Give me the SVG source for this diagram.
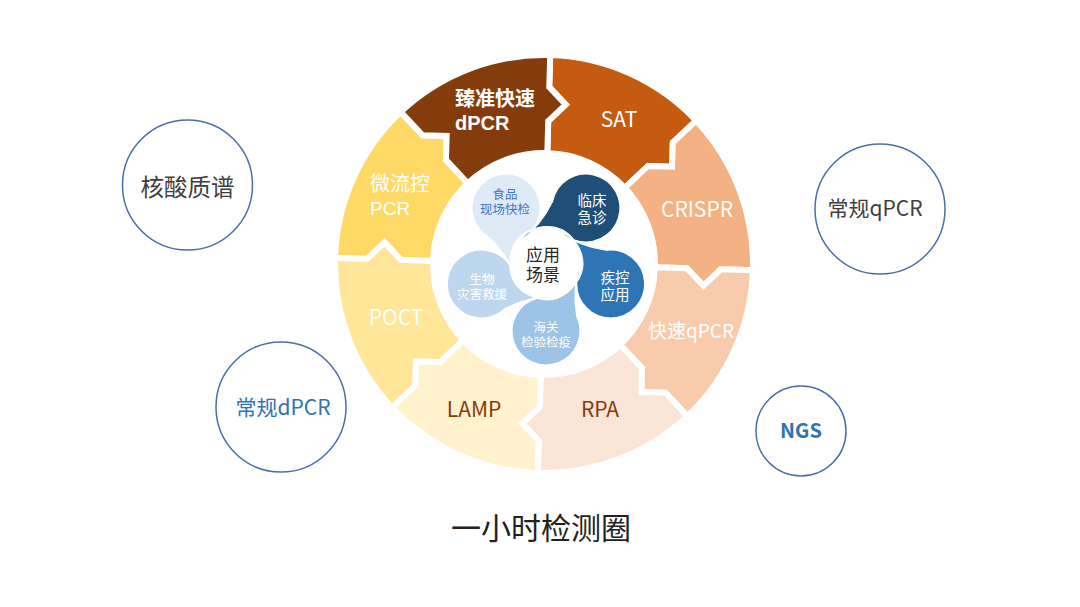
<svg xmlns="http://www.w3.org/2000/svg" width="1080" height="607" viewBox="0 0 1080 607">
<defs>
<path id="seg" d="M0,-209 A209,209 0 0 1 147.79,-147.79 L125.16,-125.16 L125.16,-101.12 L101.12,-101.12 L78.49,-78.49 A111,111 0 0 0 0,-111 L0,-143 L17,-160 L0,-177 Z"/>
<path id="petal" d="M-33.92,-2.37 A33,33 0 0 1 8.8,-35.16 A34,34 0 1 0 -30.81,-53.63 Q-26,-26 -33.92,-2.37 Z"/>
<clipPath id="tailclip"><polygon points="0,0 -59.8,5.2 -49.1,-34.4 -15.5,-58"/></clipPath>
</defs>
<style>
.seg{stroke:#fff;stroke-width:6;stroke-linejoin:miter}
.pet{stroke:#fff;stroke-width:1.2}
.t{font-family:"Noto Sans CJK SC","Noto Sans",sans-serif}
.t2{font-family:"Liberation Sans","Noto Sans CJK SC",sans-serif}
.w{fill:#fff}
.br{fill:#843C0C}
.oc{fill:#fff;stroke:#4A6DB0;stroke-width:1.5}
</style>
<rect width="1080" height="607" fill="#fff"/>

<g id="ring">
<g id="node-sat"><use href="#seg" class="seg" fill="#C55A11" transform="translate(544,264) rotate(1.7)"/>
<text class="t w" x="619" y="127" font-size="21" text-anchor="middle">SAT</text></g>
<g id="node-crispr"><use href="#seg" class="seg" fill="#F4B183" transform="translate(544,264) rotate(46.7)"/>
<text class="t w" x="697" y="217" font-size="21" text-anchor="middle">CRISPR</text></g>
<g id="node-fastqpcr"><use href="#seg" class="seg" fill="#F8CBAD" transform="translate(544,264) rotate(91.7)"/>
<text class="t w" x="691" y="338" font-size="19" text-anchor="middle">快速qPCR</text></g>
<g id="node-rpa"><use href="#seg" class="seg" fill="#FBE5D6" transform="translate(544,264) rotate(136.7)"/>
<text class="t br" x="600" y="417" font-size="21" text-anchor="middle">RPA</text></g>
<g id="node-lamp"><use href="#seg" class="seg" fill="#FFF2CC" transform="translate(544,264) rotate(181.7)"/>
<text class="t br" x="474" y="417" font-size="21" text-anchor="middle">LAMP</text></g>
<g id="node-poct"><use href="#seg" class="seg" fill="#FFE699" transform="translate(544,264) rotate(226.7)"/>
<text class="t w" x="396" y="325" font-size="21" text-anchor="middle">POCT</text></g>
<g id="node-microfluidic"><use href="#seg" class="seg" fill="#FFD966" transform="translate(544,264) rotate(271.7)"/>
<text class="t2 w" font-size="20"><tspan x="370" y="191">微流控</tspan><tspan x="370" y="215" font-size="19">PCR</tspan></text></g>
<g id="node-zhenzhun"><use href="#seg" class="seg" fill="#843C0C" transform="translate(544,264) rotate(316.7)"/>
<text class="t2 w" font-size="20" font-weight="bold"><tspan x="455" y="106">臻准快速</tspan><tspan x="455" y="130">dPCR</tspan></text></g>
</g>

<g id="petals">
<g id="node-food"><use href="#petal" class="pet" fill="#DEEBF7" transform="translate(546,263) rotate(-36)"/></g>
<g id="node-bio"><use href="#petal" class="pet" fill="#BDD7EE" transform="translate(546,263) rotate(252)"/></g>
<g id="node-customs"><use href="#petal" class="pet" fill="#9DC3E6" transform="translate(546,263) rotate(180)"/></g>
<g id="node-cdc"><use href="#petal" class="pet" fill="#2E75B6" transform="translate(546,263) rotate(108)"/></g>
<g id="node-clinic"><use href="#petal" class="pet" fill="#1F4E79" transform="translate(546,263) rotate(36)"/></g>
<g id="food-tail" transform="translate(546,263) rotate(-36)"><path class="pet" fill="#DEEBF7" clip-path="url(#tailclip)" d="M-33.92,-2.37 A33,33 0 0 1 8.8,-35.16 A34,34 0 1 0 -30.81,-53.63 Q-26,-26 -33.92,-2.37 Z"/></g>
<g id="petal-labels">
<text class="t2" fill="#4472C4" font-size="12.5" text-anchor="middle"><tspan x="505" y="199">食品</tspan><tspan x="505" y="214">现场快检</tspan></text>
<text class="t2 w" font-size="14.5" text-anchor="middle"><tspan x="592" y="206">临床</tspan><tspan x="592" y="223">急诊</tspan></text>
<text class="t2 w" font-size="14.5" text-anchor="middle"><tspan x="615" y="283">疾控</tspan><tspan x="615" y="300">应用</tspan></text>
<text class="t2 w" font-size="12.5" text-anchor="middle"><tspan x="546" y="332">海关</tspan><tspan x="546" y="347">检验检疫</tspan></text>
<text class="t2 w" font-size="12.5" text-anchor="middle"><tspan x="482" y="284">生物</tspan><tspan x="482" y="299">灾害救援</tspan></text>
</g>
<g id="node-center">
<text class="t2" fill="#262626" font-size="17" text-anchor="middle"><tspan x="543" y="261">应用</tspan><tspan x="543" y="281">场景</tspan></text>
</g>
</g>

<g id="node-ms"><circle class="oc" cx="187.5" cy="185" r="65"/>
<text class="t" fill="#404040" x="187.5" y="196" font-size="23.5" text-anchor="middle">核酸质谱</text></g>
<g id="node-dpcr"><circle class="oc" cx="281" cy="407" r="65"/>
<text class="t" fill="#2E75B6" x="283" y="415" font-size="21" text-anchor="middle">常规dPCR</text></g>
<g id="node-qpcr"><circle class="oc" cx="880" cy="209" r="65"/>
<text class="t" fill="#404040" x="875" y="216" font-size="21" text-anchor="middle">常规qPCR</text></g>
<g id="node-ngs"><circle class="oc" cx="801" cy="431" r="45"/>
<text class="t" fill="#2E75B6" x="801" y="438" font-size="20" font-weight="bold" text-anchor="middle">NGS</text></g>

<text id="title" class="t" fill="#222" x="541" y="539" font-size="30" text-anchor="middle">一小时检测圈</text>
</svg>
